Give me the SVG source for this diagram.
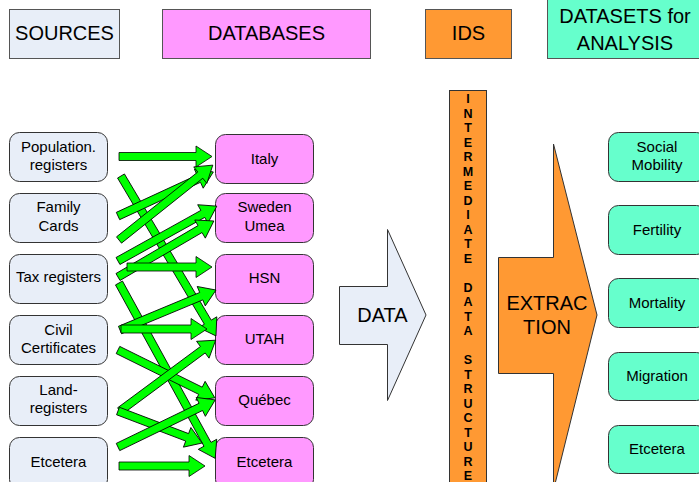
<svg xmlns="http://www.w3.org/2000/svg" width="699" height="482" viewBox="0 0 699 482">
<style>
text{font-family:"Liberation Sans",Arial,sans-serif;fill:#000;text-anchor:middle}
.h{font-size:20px}
.t{font-size:15px}
.src{fill:#E8EEF8;stroke:#333;stroke-width:1}
.db{fill:#FF99FF;stroke:#333;stroke-width:1}
.ds{fill:#66FFCC;stroke:#333;stroke-width:1}
.or{fill:#FF9933;stroke:#333;stroke-width:1}
.hd{stroke:#555;stroke-width:1}
.ga{fill:#00FF00;stroke:#000;stroke-width:0.8;stroke-linejoin:miter}
.v{font-size:12.5px;font-weight:bold}
</style>
<rect width="699" height="482" fill="#fff"/>
<g id="hdr-sources"><rect class="src hd" x="9.5" y="9.5" width="110" height="49"/><text class="h" x="64.5" y="40">SOURCES</text></g>
<g id="hdr-databases"><rect class="db hd" x="162.5" y="9.5" width="208" height="49"/><text class="h" x="266.5" y="40">DATABASES</text></g>
<g id="hdr-ids"><rect class="or hd" x="425.5" y="9.5" width="86" height="49"/><text class="h" x="468.5" y="40">IDS</text></g>
<g id="hdr-datasets"><rect class="ds hd" x="547.5" y="-2" width="160" height="60.5"/><text class="h" x="625" y="23">DATASETS for</text><text class="h" x="625" y="50">ANALYSIS</text></g>

<g id="src-pop"><rect class="src" x="9.5" y="132.5" width="98" height="49" rx="10"/><text class="t" x="58.5" y="152">Population.</text><text class="t" x="58.5" y="170">registers</text></g>
<g id="src-family"><rect class="src" x="9.5" y="193.5" width="98" height="49" rx="10"/><text class="t" x="58.5" y="212">Family</text><text class="t" x="58.5" y="231">Cards</text></g>
<g id="src-tax"><rect class="src" x="9.5" y="254.5" width="98" height="49" rx="10"/><text class="t" x="58.5" y="282">Tax registers</text></g>
<g id="src-civil"><rect class="src" x="9.5" y="315.5" width="98" height="49" rx="10"/><text class="t" x="58.5" y="335">Civil</text><text class="t" x="58.5" y="353">Certificates</text></g>
<g id="src-land"><rect class="src" x="9.5" y="376.5" width="98" height="49" rx="10"/><text class="t" x="58.5" y="395">Land-</text><text class="t" x="58.5" y="413">registers</text></g>
<g id="src-etc"><rect class="src" x="9.5" y="437.5" width="98" height="52" rx="10"/><text class="t" x="58.5" y="467">Etcetera</text></g>

<g id="db-italy"><rect class="db" x="215.5" y="134.5" width="98" height="49" rx="10"/><text class="t" x="264.5" y="164">Italy</text></g>
<g id="db-sweden"><rect class="db" x="215.5" y="193.5" width="98" height="49" rx="10"/><text class="t" x="264.5" y="212">Sweden</text><text class="t" x="264.5" y="231">Umea</text></g>
<g id="db-hsn"><rect class="db" x="215.5" y="254.5" width="98" height="49" rx="10"/><text class="t" x="264.5" y="283">HSN</text></g>
<g id="db-utah"><rect class="db" x="215.5" y="315.5" width="98" height="49" rx="10"/><text class="t" x="264.5" y="344">UTAH</text></g>
<g id="db-quebec"><rect class="db" x="215.5" y="376.5" width="98" height="49" rx="10"/><text class="t" x="264.5" y="405">Québec</text></g>
<g id="db-etc"><rect class="db" x="215.5" y="437.5" width="98" height="52" rx="10"/><text class="t" x="264.5" y="467">Etcetera</text></g>

<g id="data-arrow"><path class="src" d="M339.5,286.5H387.5V229.5L426,315L387.5,400.5V344.5H339.5Z"/><text class="h" x="382.5" y="322">DATA</text></g>

<g id="ids-bar"><rect class="or" x="449.5" y="90.5" width="37" height="400"/>
<text class="v"><tspan x="468" y="103">I</tspan><tspan x="468" y="117.5">N</tspan><tspan x="468" y="132">T</tspan><tspan x="468" y="146.5">E</tspan><tspan x="468" y="161">R</tspan><tspan x="468" y="175.5">M</tspan><tspan x="468" y="190">E</tspan><tspan x="468" y="204.5">D</tspan><tspan x="468" y="219">I</tspan><tspan x="468" y="233.5">A</tspan><tspan x="468" y="248">T</tspan><tspan x="468" y="262.5">E</tspan><tspan x="468" y="291.5">D</tspan><tspan x="468" y="306">A</tspan><tspan x="468" y="320.5">T</tspan><tspan x="468" y="335">A</tspan><tspan x="468" y="364">S</tspan><tspan x="468" y="378.5">T</tspan><tspan x="468" y="393">R</tspan><tspan x="468" y="407.5">U</tspan><tspan x="468" y="422">C</tspan><tspan x="468" y="436.5">T</tspan><tspan x="468" y="451">U</tspan><tspan x="468" y="465.5">R</tspan><tspan x="468" y="480">E</tspan></text></g>

<g id="extraction-arrow"><path class="or" d="M498.5,257.5H553.5V144L597,315L553.5,490V373.5H498.5Z"/><text class="h" x="547" y="310">EXTRAC</text><text class="h" x="547" y="334">TION</text></g>

<g id="ds-social"><rect class="ds" x="608.5" y="132.5" width="98" height="49" rx="10"/><text class="t" x="657" y="152">Social</text><text class="t" x="657" y="170">Mobility</text></g>
<g id="ds-fertility"><rect class="ds" x="608.5" y="205.5" width="98" height="49" rx="10"/><text class="t" x="657" y="235">Fertility</text></g>
<g id="ds-mortality"><rect class="ds" x="608.5" y="278.5" width="98" height="49" rx="10"/><text class="t" x="657" y="308">Mortality</text></g>
<g id="ds-migration"><rect class="ds" x="608.5" y="352.5" width="98" height="48" rx="10"/><text class="t" x="657" y="381">Migration</text></g>
<g id="ds-etc"><rect class="ds" x="608.5" y="425.5" width="98" height="48" rx="10"/><text class="t" x="657" y="454">Etcetera</text></g>

<g id="connectors">
<path class="ga" transform="translate(121,176) rotate(59.3)" d="M0,-4H170V-10.5L186,0L170,10.5V4H0Z"/>
<path class="ga" transform="translate(119,283) rotate(61.25)" d="M0,-4H184V-10.5L200,0L184,10.5V4H0Z"/>
<path class="ga" transform="translate(118,216) rotate(-24.8)" d="M0,-4H89V-10.5L105,0L89,10.5V4H0Z"/>
<path class="ga" transform="translate(119,240) rotate(-38.6)" d="M0,-4H104V-10.5L120,0L104,10.5V4H0Z"/>
<path class="ga" transform="translate(118,261) rotate(-29.05)" d="M0,-4H97V-10.5L113,0L97,10.5V4H0Z"/>
<path class="ga" transform="translate(118,277) rotate(-30.3)" d="M0,-4H95V-10.5L111,0L95,10.5V4H0Z"/>
<path class="ga" transform="translate(119,156.5)" d="M0,-4H77V-10.5L93,0L77,10.5V4H0Z"/>
<path class="ga" transform="translate(127,267)" d="M0,-4H69V-10.5L85,0L69,10.5V4H0Z"/>
<path class="ga" transform="translate(120,330) rotate(-22.6)" d="M0,-4H88V-10.5L104,0L88,10.5V4H0Z"/>
<path class="ga" transform="translate(121,329)" d="M0,-4H70V-10.5L86,0L70,10.5V4H0Z"/>
<path class="ga" transform="translate(118,350) rotate(26.3)" d="M0,-4H92V-10.5L108,0L92,10.5V4H0Z"/>
<path class="ga" transform="translate(120,411) rotate(-36.5)" d="M0,-4H103V-10.5L119,0L103,10.5V4H0Z"/>
<path class="ga" transform="translate(118,411) rotate(20.85)" d="M0,-4H74V-10.5L90,0L74,10.5V4H0Z"/>
<path class="ga" transform="translate(118,447) rotate(-25.85)" d="M0,-4H92V-10.5L108,0L92,10.5V4H0Z"/>
<path class="ga" transform="translate(119,466)" d="M0,-4H70V-10.5L86,0L70,10.5V4H0Z"/>
</g>
</svg>
